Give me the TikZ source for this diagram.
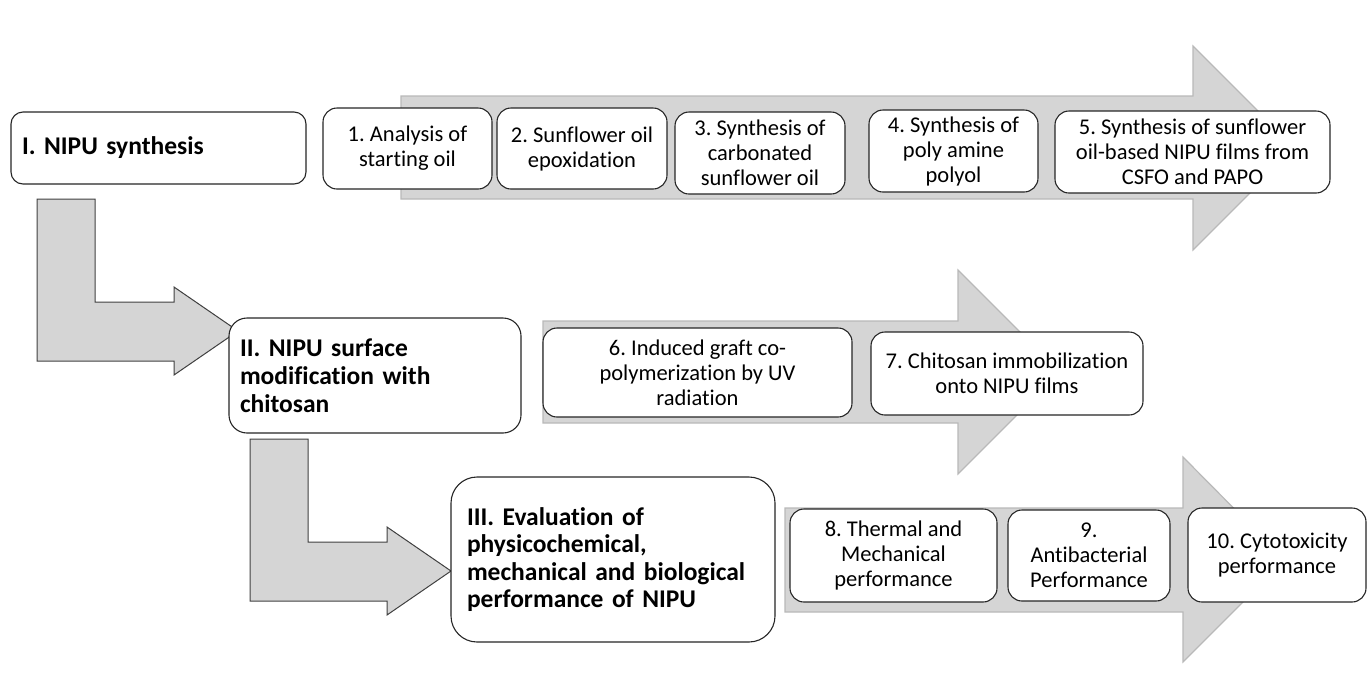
\documentclass[tikz,border=0pt]{standalone}
\usepackage{fontspec}
\setmainfont{Carlito}[Ligatures={NoCommon}, BoldFeatures={WordSpace=0.75}]
\frenchspacing
\begin{document}
\begin{tikzpicture}[x=1pt,y=-1pt,
  flow/.style={fill=gray!33, draw=gray!55, line width=1.2pt, line join=miter},
  bent/.style={fill=gray!33, draw=black!75, line width=1pt, line join=miter},
  stepbox/.style={draw=black!85, fill=white, line width=1.1pt, rounded corners=14pt,
    align=center, inner sep=2pt, font=\fontsize{22.5}{25}\selectfont},
  headbox/.style={draw=black!85, fill=white, line width=1.1pt, rounded corners=16pt,
    align=left, inner xsep=11pt, inner ysep=2pt, font=\fontsize{25.5}{28}\selectfont\bfseries}
]
\useasboundingbox (0,0) rectangle (1368,673);
% process arrows
\path[flow] (401,96) -- (1193,96) -- (1193,46) -- (1295,148) -- (1193,250) -- (1193,199) -- (401,199) -- cycle;
\path[flow] (543,321) -- (958,321) -- (958,270) -- (1060,372) -- (958,474) -- (958,423) -- (543,423) -- cycle;
\path[flow] (785,508) -- (1183,508) -- (1183,457) -- (1285,560) -- (1183,662) -- (1183,612) -- (785,612) -- cycle;
% bent arrows
\path[bent] (37,199) -- (95,199) -- (95,302) -- (174,302) -- (174,287) -- (238,331) -- (174,375) -- (174,361) -- (37,361) -- cycle;
\path[bent] (250,439) -- (308,439) -- (308,542) -- (387,542) -- (387,527) -- (451,571) -- (387,615) -- (387,601) -- (250,601) -- cycle;
% headers
\node[headbox, rounded corners=12pt, text width=273pt, minimum height=72pt] (h1) at (158.5,148) {I. NIPU synthesis};
\node[headbox, rounded corners=18pt, text width=270pt, minimum height=115pt] (h2) at (375,375.5) {II. NIPU surface\\modification with\\chitosan};
\node[headbox, rounded corners=26pt, inner xsep=16pt, text width=292pt, minimum height=165pt,
  font=\fontsize{25.5}{27.3}\selectfont\bfseries] (h3) at (613,559.5) {III. Evaluation of\\physicochemical,\\mechanical and biological\\performance of NIPU};
% steps
\node[stepbox, minimum width=169pt, minimum height=81pt] (s1) at (407.5,148.5) {1. Analysis of\\starting oil};
\node[stepbox, minimum width=170pt, minimum height=81pt] (s2) at (582,148.5) {2. Sunflower oil\\epoxidation};
\node[stepbox, minimum width=170pt, minimum height=82pt] (s3) at (760,153) {3. Synthesis of\\carbonated\\sunflower oil};
\node[stepbox, minimum width=169pt, minimum height=82pt] (s4) at (953.5,151) {4. Synthesis of\\poly amine\\polyol};
\node[stepbox, minimum width=275pt, minimum height=82pt] (s5) at (1192.5,152) {5. Synthesis of sunflower\\oil-based NIPU films from\\CSFO and PAPO};
\node[stepbox, minimum width=309pt, minimum height=89pt] (s6) at (697.5,372.5) {6. Induced graft co-\\polymerization by UV\\radiation};
\node[stepbox, minimum width=272pt, minimum height=83pt] (s7) at (1007,373.5) {7. Chitosan immobilization\\onto NIPU films};
\node[stepbox, minimum width=207pt, minimum height=93pt] (s8) at (893.5,555.5) {8. Thermal and\\Mechanical\\performance};
\node[stepbox, minimum width=162pt, minimum height=91pt] (s9) at (1089,555.5) {9.\\Antibacterial\\Performance};
\node[stepbox, minimum width=178pt, minimum height=94pt] (s10) at (1277,555) {10. Cytotoxicity\\performance};
\end{tikzpicture}
\end{document}
